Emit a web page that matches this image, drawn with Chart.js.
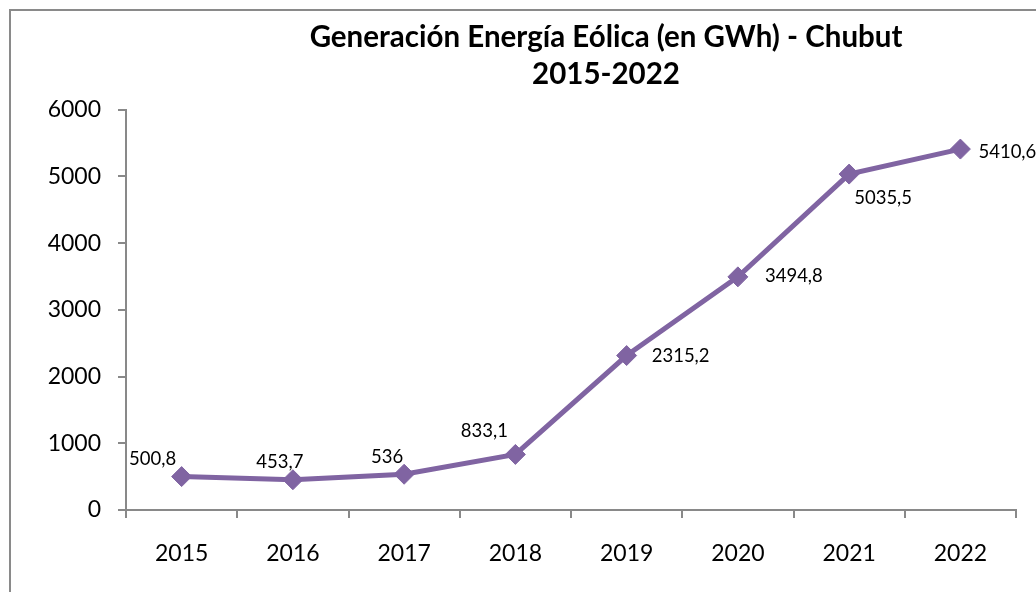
<!DOCTYPE html>
<html>
<head>
<meta charset="utf-8">
<script src="https://cdn.jsdelivr.net/npm/chart.js@4.4.1/dist/chart.umd.min.js"></script>
<style>
  html, body { margin: 0; padding: 0; background: #fff; overflow: hidden; width: 1036px; height: 592px; }
  #frame { position: absolute; left: 9px; top: 9px; width: 1200px; height: 700px;
           border-left: 2px solid #8a8a8a; border-top: 2px solid #8a8a8a; box-sizing: border-box; }
  #wrap { position: absolute; left: 0; top: 0; width: 1212px; height: 592px; }
</style>
</head>
<body>
<div id="frame"></div>
<div id="wrap"><canvas id="c" width="1212" height="592"></canvas></div>
<script>
// ---- data ----
const categories = ['2015', '2016', '2017', '2018', '2019', '2020', '2021', '2022'];
const generationGWh = [500.8, 453.7, 536, 833.1, 2315.2, 3494.8, 5035.5, 5410.6];
const valueLabels = ['500,8', '453,7', '536', '833,1', '2315,2', '3494,8', '5035,5', '5410,6'];
const yTicks = [0, 1000, 2000, 3000, 4000, 5000, 6000];
const titleLines = ['Generación Energía Eólica (en GWh) - Chubut', '2015-2022'];

// label placement (style): offset of label centre from its point, px
const labelOffsets = [[-29, -18], [-13, -18], [-17, -17], [-31, -23], [54, 0], [56, -1], [34, 24], [47, 3]];

const FONT = 'Lato, "Open Sans", "Liberation Sans", sans-serif';
const PURPLE = '#8064A2';
const AXIS = '#898989';

const dataLabelPlugin = {
  id: 'dataLabels',
  afterDatasetsDraw(chart) {
    const ctx = chart.ctx;
    const meta = chart.getDatasetMeta(0);
    ctx.save();
    ctx.font = '18.5px ' + FONT;
    ctx.fillStyle = '#000';
    ctx.textAlign = 'center';
    ctx.textBaseline = 'middle';
    meta.data.forEach((pt, i) => {
      const o = labelOffsets[i];
      ctx.fillText(valueLabels[i], pt.x + o[0], pt.y + o[1]);
    });
    ctx.restore();
  }
};

new Chart(document.getElementById('c'), {
  type: 'line',
  data: {
    labels: categories,
    datasets: [{
      data: generationGWh,
      borderColor: PURPLE,
      backgroundColor: PURPLE,
      borderWidth: 5,
      pointStyle: 'rectRot',
      pointRadius: 10,
      pointBorderWidth: 1,
      pointBorderColor: PURPLE,
      pointBackgroundColor: PURPLE,
      tension: 0,
      fill: false
    }]
  },
  options: {
    responsive: false,
    animation: false,
    devicePixelRatio: 1,
    layout: { padding: 0 },
    plugins: {
      legend: { display: false },
      tooltip: { enabled: false },
      title: {
        display: true,
        text: titleLines,
        color: '#000',
        font: { family: FONT, size: 29.5, weight: 'bold', lineHeight: 1.25 },
        padding: { top: 19.5, bottom: 16.5 }
      }
    },
    scales: {
      x: {
        type: 'category',
        offset: true,
        grid: { display: true, offset: true, drawOnChartArea: false, drawTicks: true, tickLength: 8, color: AXIS, lineWidth: 2 },
        border: { display: true, color: AXIS, width: 2 },
        ticks: { color: '#000', font: { family: FONT, size: 23 }, padding: 22, maxRotation: 0 },
        afterFit(scale) { scale.height = 82; }
      },
      y: {
        min: 0,
        max: 6000,
        afterBuildTicks(scale) { scale.ticks = yTicks.map(v => ({ value: v })); },
        grid: { display: true, drawOnChartArea: false, drawTicks: true, tickLength: 8, color: AXIS, lineWidth: 2 },
        border: { display: true, color: AXIS, width: 2 },
        ticks: { color: '#000', font: { family: FONT, size: 23 }, padding: 17, callback: (v) => String(v) },
        afterFit(scale) { scale.width = 126; }
      },
      spacer: {
        type: 'linear',
        position: 'right',
        display: true,
        grid: { display: false, drawTicks: false },
        border: { display: false },
        ticks: { display: false },
        afterFit(scale) { scale.width = 196; }
      }
    }
  },
  plugins: [dataLabelPlugin]
});
</script>
</body>
</html>
